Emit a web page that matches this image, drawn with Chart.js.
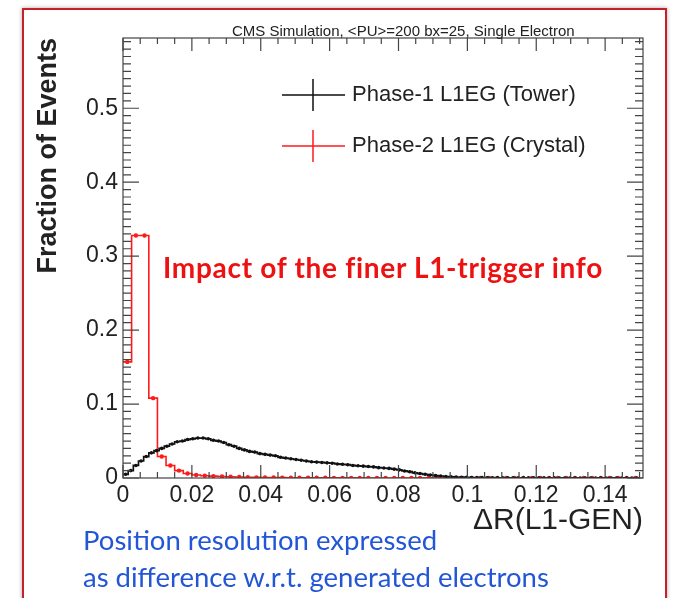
<!DOCTYPE html>
<html>
<head>
<meta charset="utf-8">
<script src="https://cdn.jsdelivr.net/npm/chart.js@4.4.1/dist/chart.umd.min.js"></script>
<style>
  html, body { margin: 0; padding: 0; background: #fff; }
  body { width: 680px; height: 598px; position: relative; overflow: hidden; font-family: "Liberation Sans", Arial, sans-serif; }
  #box { position: absolute; left: 22px; top: 8px; width: 641px; height: 640px; border: 2px solid #c8202a; box-shadow: 0 0 4px rgba(0,0,0,0.35); }
  #wrap { position: absolute; left: 0; top: 0; width: 680px; height: 598px; }
  .txt { position: absolute; white-space: nowrap; }
  #head { left: 232px; top: 22px; font-size: 15px; color: #222; }
  #impact { left: 163px; top: 250px; font-family: Lato, "Open Sans", sans-serif; font-weight: bold; font-size: 28px; letter-spacing: 0.7px; color: #ee1111; }
  #caption { left: 83px; top: 521px; font-family: Lato, "Open Sans", sans-serif; font-size: 27.5px; line-height: 37px; color: #2356d6; }
</style>
</head>
<body>
<div id="box"></div>
<div id="wrap"><canvas id="chartDR" width="680" height="598"></canvas></div>
<div class="txt" id="head">CMS Simulation, &lt;PU&gt;=200 bx=25, Single Electron</div>
<div class="txt" id="impact">Impact of the finer L1-trigger info</div>
<div class="txt" id="caption">Position resolution expressed<br>as difference w.r.t. generated electrons</div>
<script>
/* ΔR(L1-GEN) para electrones: Phase-1 (torre) vs Phase-2 (cristal) */

const binWidthTower = 0.0015;
const towerValues = [
  0.005, 0.010, 0.017, 0.023, 0.029, 0.034, 0.037, 0.040, 0.043, 0.046,
  0.049, 0.050, 0.052, 0.053, 0.054, 0.054, 0.053, 0.051, 0.050, 0.048,
  0.045, 0.043, 0.040, 0.038, 0.036, 0.035, 0.033, 0.032, 0.031, 0.030,
  0.028, 0.027, 0.026, 0.025, 0.024, 0.023, 0.022, 0.0215, 0.021, 0.0205,
  0.020, 0.019, 0.0185, 0.018, 0.017, 0.0165, 0.016, 0.0155, 0.015, 0.014,
  0.0135, 0.013, 0.012, 0.011, 0.0095, 0.0085, 0.007, 0.006, 0.005, 0.004,
  0.0033, 0.0027, 0.002, 0.0016, 0.0013, 0.001, 0.0008, 0.0006, 0.0005, 0.0005,
  0.0004, 0.0004, 0.0003, 0.0003, 0.0003, 0.0003, 0.0002, 0.0002, 0.0002, 0.0002,
  0.0002, 0.0002, 0.0001, 0.0002, 0.0001, 0.0001, 0.0001, 0.0001, 0.0001, 0.0001,
  0.0001, 0.0001, 0.0001, 0.0001, 0.0, 0.0001, 0.0, 0.0001, 0.0, 0.0
];

const binWidthCrystal = 0.0025;
const crystalValues = [
  0.157, 0.328, 0.328, 0.108, 0.029, 0.017, 0.010, 0.006, 0.004, 0.003,
  0.0025, 0.002, 0.0016, 0.0013, 0.001, 0.0008, 0.0007, 0.0006, 0.0005, 0.0004,
  0.0004, 0.0003, 0.0003, 0.0003, 0.0002, 0.0002, 0.0002, 0.0002, 0.0001, 0.0001,
  0.0001, 0.0001, 0.0001, 0.0, 0.0001, 0.0001, 0.0, 0.0001, 0.0, 0.0001,
  0.0, 0.0, 0.0001, 0.0, 0.0, 0.0, 0.0001, 0.0, 0.0, 0.0,
  0.0, 0.0, 0.0, 0.0, 0.0, 0.0, 0.0, 0.0, 0.0, 0.0
];

const seriesNames = ["Phase-1 L1EG (Tower)", "Phase-2 L1EG (Crystal)"];
const seriesColors = ["#111111", "#ff1a1a"];

const xMin = 0, xMax = 0.151, xStep = 0.02, xMinorStep = 0.005;
const yMin = 0, yMax = 0.595, yStep = 0.1, yMinorStep = 0.01;

// bordes de bin para el contorno escalonado, centros para los marcadores
function edges(values, w) {
  const pts = values.map((v, i) => ({ x: i * w, y: v }));
  pts.push({ x: values.length * w, y: values[values.length - 1] });
  return pts;
}
function centers(values, w) {
  return values.map((v, i) => ({ x: (i + 0.5) * w, y: v }));
}

// marco con marcas hacia adentro (estilo ROOT) y leyenda
const rootFrame = {
  id: "rootFrame",
  afterDraw(chart) {
    const { ctx, chartArea: a, scales } = chart;
    const x = scales.x, y = scales.y;
    ctx.save();
    ctx.strokeStyle = "#444";
    ctx.lineWidth = 1.2;
    ctx.strokeRect(a.left, a.top, a.right - a.left, a.bottom - a.top);
    ctx.beginPath();
    for (let k = 0; xMin + k * xMinorStep <= xMax + 1e-9; k++) {
      const px = x.getPixelForValue(xMin + k * xMinorStep);
      const len = k % 4 === 0 ? 13 : 6;
      ctx.moveTo(px, a.bottom); ctx.lineTo(px, a.bottom - len);
      ctx.moveTo(px, a.top); ctx.lineTo(px, a.top + len);
    }
    for (let k = 0; yMin + k * yMinorStep <= yMax + 1e-9; k++) {
      const py = y.getPixelForValue(yMin + k * yMinorStep);
      const len = k % 10 === 0 ? 16 : 8;
      ctx.moveTo(a.left, py); ctx.lineTo(a.left + len, py);
      ctx.moveTo(a.right, py); ctx.lineTo(a.right - len, py);
    }
    ctx.stroke();

    // leyenda
    ctx.font = "22px 'Liberation Sans', Arial, sans-serif";
    ctx.textBaseline = "middle";
    seriesNames.forEach((name, i) => {
      const cy = 95 + i * 51, x0 = 282, x1 = 345, cx = 313;
      ctx.strokeStyle = seriesColors[i];
      ctx.lineWidth = 1.5;
      ctx.beginPath();
      ctx.moveTo(x0, cy); ctx.lineTo(x1, cy);
      ctx.moveTo(cx, cy - 16); ctx.lineTo(cx, cy + 16);
      ctx.stroke();
      ctx.fillStyle = "#222";
      ctx.fillText(name, 352, cy);
    });
    ctx.restore();
  }
};

const ctx = document.getElementById("chartDR");
new Chart(ctx, {
  data: {
    datasets: [
      { type: "line", data: edges(towerValues, binWidthTower), stepped: "before",
        borderColor: seriesColors[0], borderWidth: 1.7, pointRadius: 0, fill: false },
      { type: "scatter", data: centers(towerValues, binWidthTower),
        backgroundColor: seriesColors[0], borderWidth: 0, pointRadius: 1.8 },
      { type: "line", data: edges(crystalValues, binWidthCrystal), stepped: "before",
        borderColor: seriesColors[1], borderWidth: 1.6, pointRadius: 0, fill: false },
      { type: "scatter", data: centers(crystalValues, binWidthCrystal),
        backgroundColor: seriesColors[1], borderWidth: 0, pointRadius: 2.2 }
    ]
  },
  options: {
    responsive: false,
    animation: false,
    layout: { padding: { left: 0, top: 38, right: 37, bottom: 59 } },
    plugins: { legend: { display: false }, tooltip: { enabled: false } },
    scales: {
      x: {
        type: "linear", min: xMin, max: xMax,
        afterFit: (s) => { s.height = 61; },
        grid: { display: false, drawTicks: false },
        border: { display: false },
        ticks: {
          stepSize: xStep, includeBounds: false, padding: 4,
          color: "#222", font: { family: "'Liberation Sans', Arial", size: 23 },
          callback: (v) => (Math.round(v * 100) / 100).toString(),
          maxRotation: 0, autoSkip: false
        },
        title: {
          display: true, text: "ΔR(L1-GEN)", align: "end",
          color: "#222", font: { family: "'Liberation Sans', Arial", size: 30 },
          padding: { top: 0, bottom: 0 }
        }
      },
      y: {
        type: "linear", min: yMin, max: yMax,
        afterFit: (s) => { s.width = 123; },
        grid: { display: false, drawTicks: false },
        border: { display: false },
        ticks: {
          stepSize: yStep, includeBounds: false, padding: 5,
          color: "#222", font: { family: "'Liberation Sans', Arial", size: 23 },
          callback: (v) => (Math.round(v * 10) / 10).toString()
        },
        title: {
          display: true, text: "Fraction of Events", align: "end",
          color: "#222", font: { family: "'Liberation Sans', Arial", size: 27, weight: "bold" },
          padding: { top: 32, bottom: 0 }
        }
      }
    }
  },
  plugins: [rootFrame]
});
</script>
</body>
</html>
